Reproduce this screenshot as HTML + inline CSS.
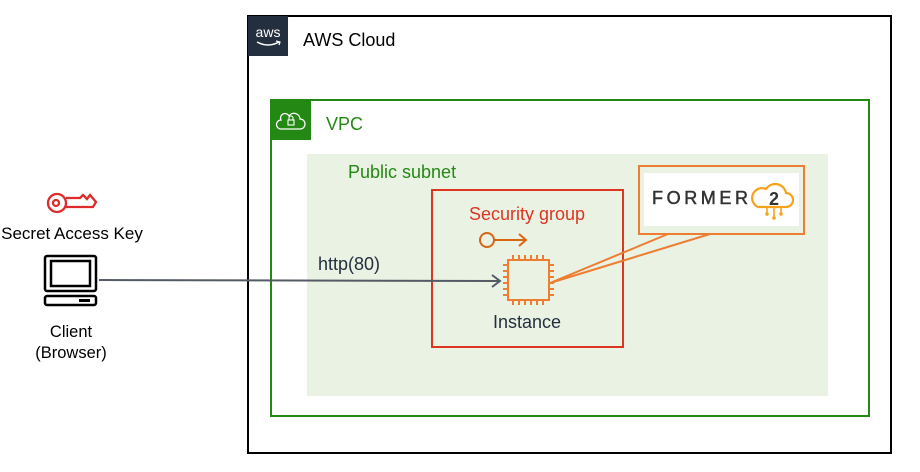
<!DOCTYPE html>
<html><head><meta charset="utf-8"><style>
html,body{margin:0;padding:0;background:#fff}
svg{display:block;font-family:"Liberation Sans",Arial,sans-serif}
</style></head><body>
<svg width="920" height="472" viewBox="0 0 920 472" xmlns="http://www.w3.org/2000/svg">
<rect x="0" y="0" width="920" height="472" fill="#fff"/>
<rect x="248" y="16" width="643" height="437" fill="none" stroke="#000" stroke-width="2"/>
<rect x="248" y="16" width="40" height="40" fill="#232f3e"/>
<text x="268" y="37" font-size="14" fill="#fff" text-anchor="middle">aws</text>
<path d="M257 42 Q268 48 279 42" stroke="#fff" stroke-width="1.5" fill="none"/>
<path d="M276 41 L280 42 L279 45" stroke="#fff" stroke-width="1.2" fill="none"/>
<text x="303" y="46" font-size="18" fill="#000">AWS Cloud</text>
<rect x="271" y="100" width="598" height="316" fill="none" stroke="#248814" stroke-width="2"/>
<rect x="271" y="100" width="40" height="40" fill="#248814"/>
<path d="M281 129 h19 a5 5 0 0 0 0 -10 a6 6 0 0 0 -11 -3 a4 4 0 0 0 -8 4 a4.5 4.5 0 0 0 0 9z" fill="none" stroke="#fff" stroke-width="1.3"/>
<rect x="288" y="120" width="6" height="5" fill="none" stroke="#fff" stroke-width="1.1"/>
<path d="M289 120 v-2 a2 2 0 0 1 4 0 v2" fill="none" stroke="#fff" stroke-width="1.1"/>
<text x="326" y="130" font-size="18" fill="#248814">VPC</text>
<rect x="307" y="154" width="521" height="242" fill="#e9f2e3"/>
<text x="348" y="178" font-size="18" fill="#248814">Public subnet</text>
<rect x="432" y="190" width="191" height="157" fill="none" stroke="#dd3522" stroke-width="2"/>
<text x="527" y="220" font-size="18" fill="#dd3522" text-anchor="middle">Security group</text>
<circle cx="487" cy="240" r="7" fill="none" stroke="#d86613" stroke-width="2"/>
<path d="M494 240 H526 M519 234 L526 240 L519 246" fill="none" stroke="#d86613" stroke-width="2"/>
<g stroke="#ed7d31" stroke-width="2" fill="none">
<rect x="508" y="260" width="41" height="40"/>
<path d="M513 260v-5M519 260v-5M525 260v-5M531 260v-5M537 260v-5M543 260v-5
M513 300v5M519 300v5M525 300v5M531 300v5M537 300v5M543 300v5
M508 265h-5M508 271h-5M508 277h-5M508 283h-5M508 289h-5M508 295h-5
M549 265h5M549 271h5M549 277h5M549 283h5M549 289h5M549 295h5"/>
</g>
<text x="527" y="328" font-size="18" fill="#232f3e" text-anchor="middle">Instance</text>
<path d="M550 283 L668 234 M550 283 L710 234" stroke="#ed7d31" stroke-width="2" fill="none"/>
<rect x="639" y="166" width="165" height="68" fill="#e9f2e3" stroke="#ed7d31" stroke-width="2"/>
<rect x="644" y="173" width="155" height="53" fill="#fff"/>
<text x="652" y="204" font-size="18" fill="#333" stroke="#333" stroke-width="0.5" textLength="96" lengthAdjust="spacing">FORMER</text>
<path d="M758 207 h28 a7 7 0 0 0 0 -14 a11 11 0 0 0 -20 -4 a9 9 0 0 0 -8 18z" fill="none" stroke="#f7a21b" stroke-width="2.2"/>
<text x="774" y="205" font-size="18" font-weight="bold" fill="#333" text-anchor="middle">2</text>
<path d="M767 207v6M774 207v10M781 207v6" stroke="#f7a21b" stroke-width="1.6"/>
<circle cx="767" cy="214" r="1.8" fill="#f7a21b"/><circle cx="774" cy="218" r="1.8" fill="#f7a21b"/><circle cx="781" cy="214" r="1.8" fill="#f7a21b"/>
<line x1="99" y1="280" x2="499" y2="281" stroke="#545b64" stroke-width="2"/>
<path d="M492 275 L500 281 L492 287" fill="none" stroke="#545b64" stroke-width="2"/>
<text x="318" y="270" font-size="18" fill="#232f3e">http(80)</text>
<g fill="none" stroke="#dd2a2a" stroke-width="2.3">
<circle cx="57" cy="203" r="9"/>
<circle cx="56" cy="203" r="3"/>
<path d="M66 198 H80 L83 195 L87 199 L90 195 L96 202 L93 207 H66"/>
</g>
<text x="72" y="239" font-size="17" fill="#000" text-anchor="middle">Secret Access Key</text>
<g fill="none" stroke="#000" stroke-width="2.5">
<rect x="45" y="256" width="51" height="35" rx="2"/>
<rect x="51" y="261" width="39" height="25"/>
<rect x="45" y="296" width="51" height="9" rx="2"/>
</g>
<rect x="79" y="299" width="11" height="3" fill="#000"/>
<text x="71" y="337" font-size="16.5" fill="#000" text-anchor="middle">Client</text>
<text x="71" y="358" font-size="16.5" fill="#000" text-anchor="middle">(Browser)</text>
</svg>
</body></html>
